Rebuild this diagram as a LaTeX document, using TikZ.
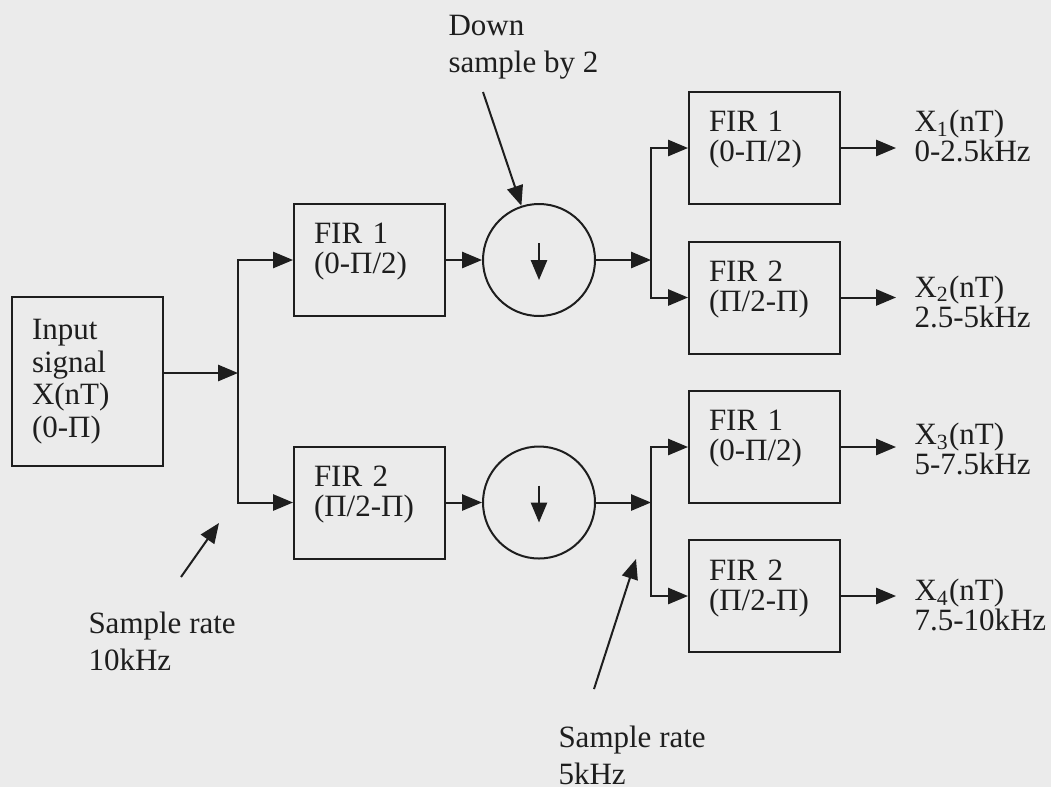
\documentclass[tikz,border=0pt]{standalone}
\usepackage{fontspec}
\setmainfont{Liberation Serif}
\usepackage{xcolor}
\usepackage{tikz}
\usetikzlibrary{arrows.meta, positioning, calc}
\definecolor{paper}{RGB}{235,235,235}
\definecolor{ink}{RGB}{30,30,30}

\begin{document}
\begin{tikzpicture}[
    x=0.4pt, y=-0.4pt,
    >={Triangle[length=8pt, width=6.5pt]},
    box/.style={draw=ink, line width=0.8pt, text=ink, minimum width=60.4pt, minimum height=44.8pt, text width=44.4pt, inner xsep=8pt, inner ysep=0pt, align=left, font=\fontsize{12.4}{12}\selectfont},
    fir/.style={box, execute at end node={\rule[-9pt]{0pt}{9pt}}},
    dsmp/.style={circle, draw=ink, line width=0.8pt, minimum size=44.8pt, inner sep=0pt},
    note/.style={text=ink, inner sep=0pt, align=left, anchor=west, font=\fontsize{12.4}{14.8}\selectfont},
    outlbl/.style={note, font=\fontsize{12.4}{12}\selectfont},
    wire/.style={draw=ink, line width=0.8pt, ->},
]
    \fill[paper] (0,0) rectangle (1051,787);

    % blocks
    \node[box, minimum height=67.6pt, font=\fontsize{12.4}{13}\selectfont] (in) at (87.5,381.5) {Input\\signal\\X(nT)\\(0-Π)};
    \node[fir] (fa) at (369.5,260) {FIR 1\\(0-Π/2)};
    \node[fir] (fb) at (369.5,502.5) {FIR 2\\(Π/2-Π)};
    \node[dsmp] (da) at (539,260) {};
    \node[dsmp] (db) at (539,502.5) {};
    \node[fir] (r1) at (764.5,148) {FIR 1\\(0-Π/2)};
    \node[fir] (r2) at (764.5,297.5) {FIR 2\\(Π/2-Π)};
    \node[fir] (r3) at (764.5,447) {FIR 1\\(0-Π/2)};
    \node[fir] (r4) at (764.5,596) {FIR 2\\(Π/2-Π)};

    % down arrows inside the decimators
    \draw[wire] ([yshift=6.8pt]da.center) -- ([yshift=-8pt]da.center);
    \draw[wire] ([yshift=6.8pt]db.center) -- ([yshift=-8pt]db.center);

    % split points
    \coordinate (s1) at (238,373);
    \coordinate (s2) at (651,260);
    \coordinate (s3) at (651,502.5);

    \draw[wire] (in.east |- s1) -- (s1);
    \draw[wire] (s1) |- (fa.west);
    \draw[wire] (s1) |- (fb.west);
    \draw[wire] (fa) -- (da);
    \draw[wire] (fb) -- (db);
    \draw[wire] (da) -- (s2);
    \draw[wire] (db) -- (s3);
    \draw[wire] (s2) |- (r1.west);
    \draw[wire] (s2) |- (r2.west);
    \draw[wire] (s3) |- (r3.west);
    \draw[wire] (s3) |- (r4.west);

    % outputs
    \foreach \i in {1,...,4}
        \draw[wire] (r\i.east) -- ++(22pt,0) coordinate (o\i);
    \node[outlbl] (x1) at (914,136) {X\textsubscript{1}(nT)\\0-2.5kHz};
    \node[outlbl] (x2) at (914,301.5) {X\textsubscript{2}(nT)\\2.5-5kHz};
    \node[outlbl] (x3) at (914,449) {X\textsubscript{3}(nT)\\5-7.5kHz};
    \node[outlbl] (x4) at (914,605) {X\textsubscript{4}(nT)\\7.5-10kHz};

    % annotations
    \node[note] (dlab) at (448,47) {Down\\sample by 2};
    \coordinate (dtail) at (483,92);
    \draw[wire] (dtail) -- (da.108);

    \node[note] (lowlab) at (88,641) {Sample rate\\10kHz};
    \coordinate (ltail) at (181,577);
    \coordinate (lhead) at (219,523);
    \draw[wire] (ltail) -- (lhead);

    \node[note] (highlab) at (558,755) {Sample rate\\5kHz};
    \coordinate (htail) at (594,689);
    \coordinate (hhead) at (636,559);
    \draw[wire] (htail) -- (hhead);
\end{tikzpicture}
\end{document}
